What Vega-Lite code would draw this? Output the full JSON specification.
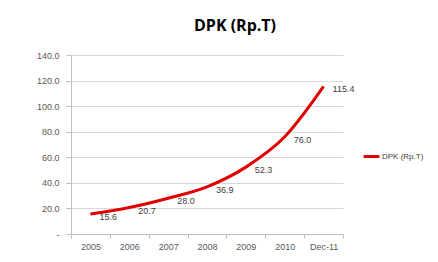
{
  "$schema": "https://vega.github.io/schema/vega-lite/v6.json",
  "autosize": {"type": "none"},
  "width": 272,
  "height": 179,
  "padding": {"left": 71, "top": 55, "right": 95, "bottom": 28},
  "background": "white",
  "config": {"view": {"stroke": null}, "font": "Liberation Sans"},
  "title": {"text": "DPK (Rp.T)", "fontSize": 16, "fontWeight": "bold", "color": "#000000", "font": "Open Sans", "anchor": "middle", "frame": "group", "dx": 28, "offset": 17},
  "data": {"values": [
    {"period": "2005", "value": 15.6, "series": "DPK (Rp.T)"},
    {"period": "2006", "value": 20.7, "series": "DPK (Rp.T)"},
    {"period": "2007", "value": 28.0, "series": "DPK (Rp.T)"},
    {"period": "2008", "value": 36.9, "series": "DPK (Rp.T)"},
    {"period": "2009", "value": 52.3, "series": "DPK (Rp.T)"},
    {"period": "2010", "value": 76.0, "series": "DPK (Rp.T)"},
    {"period": "Dec-11", "value": 115.4, "series": "DPK (Rp.T)"}
  ]},
  "encoding": {
    "x": {"field": "period", "type": "ordinal", "sort": null, "bandPosition": 0.5,
      "scale": {"type": "band", "paddingInner": 0, "paddingOuter": 0},
      "axis": {"title": null, "labelAngle": 0, "labelFontSize": 9, "labelColor": "#595959", "domainColor": "#bfbfbf", "tickColor": "#bfbfbf", "tickBand": "extent", "tickSize": 4, "labelPadding": 4, "grid": false}},
    "y": {"field": "value", "type": "quantitative",
      "scale": {"domain": [0, 140], "nice": false},
      "axis": {"title": null, "values": [0, 20, 40, 60, 80, 100, 120, 140], "labelExpr": "datum.value == 0 ? '-' : format(datum.value, '.1f')", "labelFontSize": 9, "labelColor": "#595959", "domainColor": "#bfbfbf", "tickColor": "#bfbfbf", "tickSize": 5, "gridColor": "#d9d9d9", "labelPadding": 7}}
  },
  "layer": [
    {"mark": {"type": "line", "interpolate": "monotone", "strokeWidth": 3},
     "encoding": {"color": {"field": "series", "type": "nominal", "scale": {"range": ["#e00000"]},
       "legend": {"title": null, "orient": "none", "legendX": 291, "legendY": 92, "symbolType": "stroke", "symbolStrokeWidth": 3, "symbolSize": 250, "labelFontSize": 8, "labelColor": "#404040", "labelOffset": 1}}}},
    {"mark": {"type": "text", "align": "left", "baseline": "middle", "dx": 9, "dy": 3, "fontSize": 9, "color": "#404040"},
     "encoding": {"text": {"field": "value", "type": "quantitative", "format": ".1f"}}}
  ]
}
